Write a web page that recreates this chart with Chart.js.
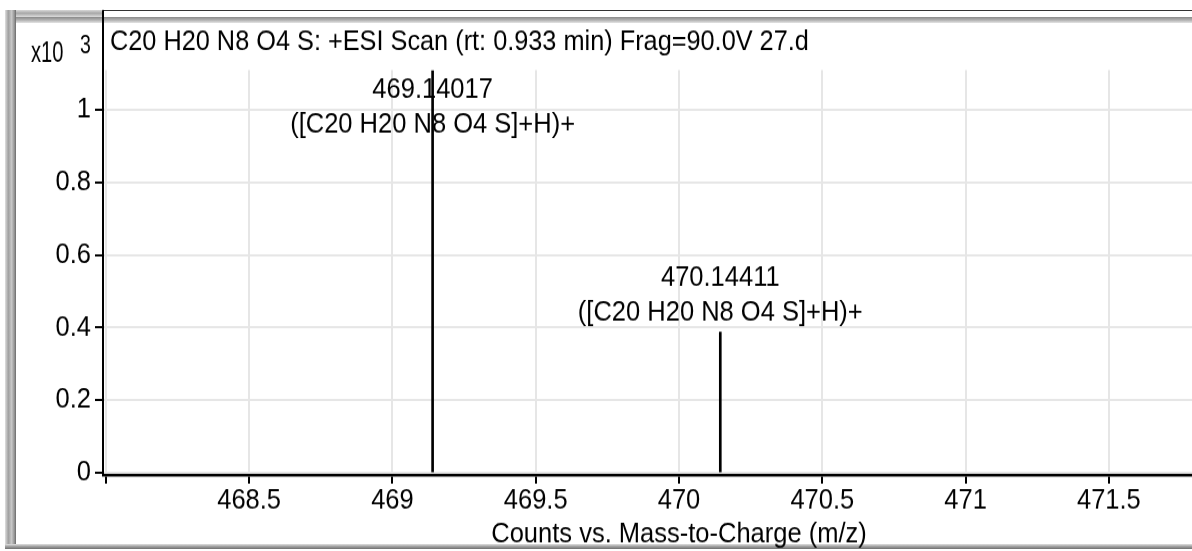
<!DOCTYPE html>
<html><head><meta charset="utf-8">
<script src="https://cdn.jsdelivr.net/npm/chart.js@4.4.1/dist/chart.umd.min.js"></script>
<style>
html,body{margin:0;padding:0;background:#fff;overflow:hidden;}
#wrap{position:relative;width:1192px;height:551px;overflow:hidden;background:#fff;}
#c{position:absolute;left:0;top:0;z-index:2;transform-origin:0 0;}
.f{position:absolute;z-index:1;}
</style></head><body>
<div id="wrap">
<div class="f" style="left:5px;top:10px;width:98px;height:8px;background:linear-gradient(#d8d8d8,#a8a8a8 40%,#c8c8c8 70%,#e8e8e8)"></div>
<div class="f" style="left:5px;top:17px;width:1200px;height:6px;background:linear-gradient(#8a8a8a,#b0b0b0 50%,#e4e4e4)"></div>
<div class="f" style="left:103px;top:10px;width:1200px;height:1px;background:#333"></div>
<div class="f" style="left:5px;top:10px;width:11px;height:539px;background:linear-gradient(to right,#e0e0e0,#a0a0a0 30%,#c8c8c8 60%,#8a8a8a 90%,#666)"></div>
<div class="f" style="left:5px;top:544px;width:1200px;height:5px;background:linear-gradient(#e0e0e0,#a0a0a0 50%,#707070)"></div>
<canvas id="c"></canvas>
</div>
<script>
const peakMz = [469.14017, 470.14411];
const peakIntensity = [1.108, 0.388]; // x10^3 counts
const peakMassLabels = ['469.14017', '470.14411'];
const peakFormulaLabels = ['([C20 H20 N8 O4 S]+H)+', '([C20 H20 N8 O4 S]+H)+'];
const xTickValues = [468, 468.5, 469, 469.5, 470, 470.5, 471, 471.5, 472];
const xTickLabels = ['', '468.5', '469', '469.5', '470', '470.5', '471', '471.5', ''];
const yTickValues = [0, 0.2, 0.4, 0.6, 0.8, 1];
const yTickLabels = ['0', '0.2', '0.4', '0.6', '0.8', '1'];
const chartTitle = 'C20 H20 N8 O4 S: +ESI Scan (rt: 0.933 min) Frag=90.0V 27.d';
const yMultiplierBase = 'x10';
const yMultiplierExp = '3';
const xAxisTitle = 'Counts vs. Mass-to-Charge (m/z)';

// layout: canvas is drawn slightly shorter and stretched vertically (taller, narrower-looking text)
const W = 1260, H = 507, S = 551 / H;
const cv = document.getElementById('c');
cv.width = W; cv.height = H;
cv.style.width = W + 'px'; cv.style.height = H + 'px';
cv.style.transform = 'scaleY(' + S + ')';

const FAMILY = '"Liberation Sans", Arial, Helvetica, sans-serif';
const font = {family: FAMILY, size: 25.5};

const annot = {
  id: 'annot',
  afterDraw(chart) {
    const ctx = chart.ctx;
    const ca = chart.chartArea;
    const xs = chart.scales.x, ys = chart.scales.y;
    ctx.save();
    ctx.strokeStyle = '#000';
    ctx.lineWidth = 2;
    ctx.beginPath();
    ctx.moveTo(ca.left, 10 / S);
    ctx.lineTo(ca.left, ca.top + 1);
    ctx.stroke();
    ctx.fillStyle = '#000';
    ctx.textBaseline = 'alphabetic';
    ctx.textAlign = 'left';
    ctx.font = '25.3px ' + FAMILY;
    ctx.fillText(chartTitle, ca.left + 7, 50 / S);
    ctx.save();
    ctx.translate(31, 62 / S);
    ctx.scale(0.72, 1);
    ctx.font = '28px ' + FAMILY;
    ctx.fillText(yMultiplierBase, 0, 0);
    ctx.restore();
    ctx.save();
    ctx.translate(80, 53 / S);
    ctx.scale(0.85, 1);
    ctx.font = '23px ' + FAMILY;
    ctx.fillText(yMultiplierExp, 0, 0);
    ctx.restore();
    ctx.font = '25.5px ' + FAMILY;
    ctx.textAlign = 'center';
    for (let i = 0; i < peakMz.length; i++) {
      const px = xs.getPixelForValue(peakMz[i]);
      const py = ys.getPixelForValue(peakIntensity[i]);
      let b1 = py - 46 / S;
      if (b1 < ca.top + 28 / S) b1 = ca.top + 28 / S;
      ctx.fillText(peakMassLabels[i], px, b1);
      ctx.fillText(peakFormulaLabels[i], px, b1 + 35 / S);
    }
    ctx.restore();
  }
};

new Chart(cv, {
  type: 'bar',
  data: {
    datasets: [{
      data: peakMz.map((x, i) => ({x: x, y: peakIntensity[i]})),
      backgroundColor: '#000',
      borderWidth: 0,
      barThickness: 2
    }]
  },
  options: {
    responsive: false,
    animation: false,
    devicePixelRatio: 1,
    layout: {padding: {left: 0, top: 70 / S, right: 5, bottom: 0}},
    plugins: {legend: {display: false}, tooltip: {enabled: false}, title: {display: false}},
    scales: {
      x: {
        type: 'linear',
        offset: false,
        min: 467.99,
        max: 472.01,
        afterBuildTicks: s => { s.ticks = xTickValues.map(v => ({value: v})); },
        afterFit: s => { s.height = H - 474.8 / S; },
        ticks: {
          callback: (v, i) => xTickLabels[i],
          font: font, color: '#000', padding: 1, maxRotation: 0, autoSkip: false
        },
        grid: {offset: false, color: '#e6e6e6', lineWidth: 2, tickColor: '#000', tickLength: 8, tickWidth: 2},
        border: {color: '#000', width: 2.6},
        title: {display: true, text: xAxisTitle, font: font, color: '#000', padding: {top: 0, bottom: 0}}
      },
      y: {
        type: 'linear',
        min: -0.005,
        max: 1.109,
        afterBuildTicks: s => { s.ticks = yTickValues.map(v => ({value: v})); },
        afterFit: s => { s.width = 103; },
        ticks: {
          callback: (v, i) => yTickLabels[i],
          font: font, color: '#000', padding: 4, autoSkip: false
        },
        grid: {color: '#e6e6e6', lineWidth: 2, tickColor: '#000', tickLength: 8, tickWidth: 2},
        border: {color: '#000', width: 2}
      }
    }
  },
  plugins: [annot]
});
</script>
</body></html>
